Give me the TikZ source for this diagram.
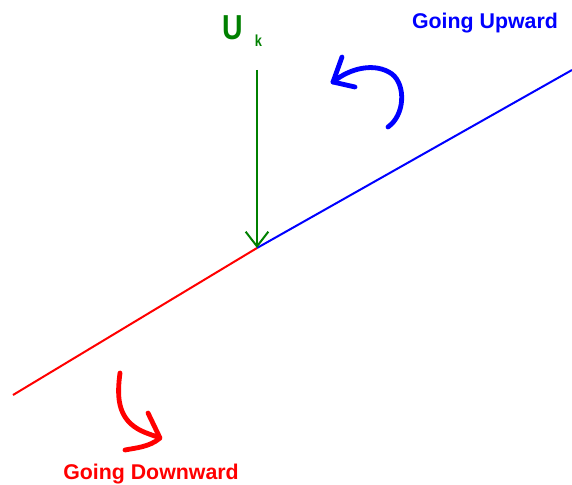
\documentclass[tikz,border=0pt]{standalone}
\usepackage{fontspec}
\setmainfont{Liberation Sans}
\usetikzlibrary{arrows.meta}

\begin{document}
\begin{tikzpicture}[x=.75pt,y=-.75pt,line width=1.5pt,
  lbl/.style={font=\fontsize{16}{18}\selectfont\bfseries,inner sep=0pt},
  hand/.style={line width=3.6pt,line cap=round,line join=round}]
\useasboundingbox (0,0) rectangle (572,485);
\coordinate (lo) at (13,395);\coordinate (mid) at (257,248);\coordinate (hi) at (572,70);
\coordinate (top) at (257,70);
\draw[red] (lo)--(mid);\draw[blue] (mid)--(hi);
\draw[green!50!black,-{Straight Barb[length=11pt,width=17pt,line width=1.5pt]}] (top)--(mid);
\node[green!50!black,font=\fontsize{26}{28}\selectfont\bfseries,inner sep=0pt,anchor=base,xscale=.82,transform shape] (u) at (233,40) {U};
\node[green!50!black,font=\fontsize{12}{14}\selectfont\bfseries,inner sep=0pt,anchor=base,xscale=.8,transform shape] (k) at (258.5,47) {k};
\node[lbl,blue,anchor=base] (up) at (485,29) {Going Upward};
\node[lbl,red,anchor=base] (down) at (151,479) {Going Downward};
% hand drawn turning arrows
\draw[hand,blue] (388,127) .. controls (405,115) and (406,85) .. (392,74) .. controls (375,62) and (350,68) .. (333,82);
\draw[hand,blue] (342,57)--(333,82)--(355,87);
\draw[hand,red] (120,373) .. controls (117,395) and (118,412) .. (131,424) .. controls (140,432) and (150,434) .. (160,438);
\draw[hand,red] (148,413)--(160,438) .. controls (150,447) and (135,448) .. (125,450);
\end{tikzpicture}
\end{document}
